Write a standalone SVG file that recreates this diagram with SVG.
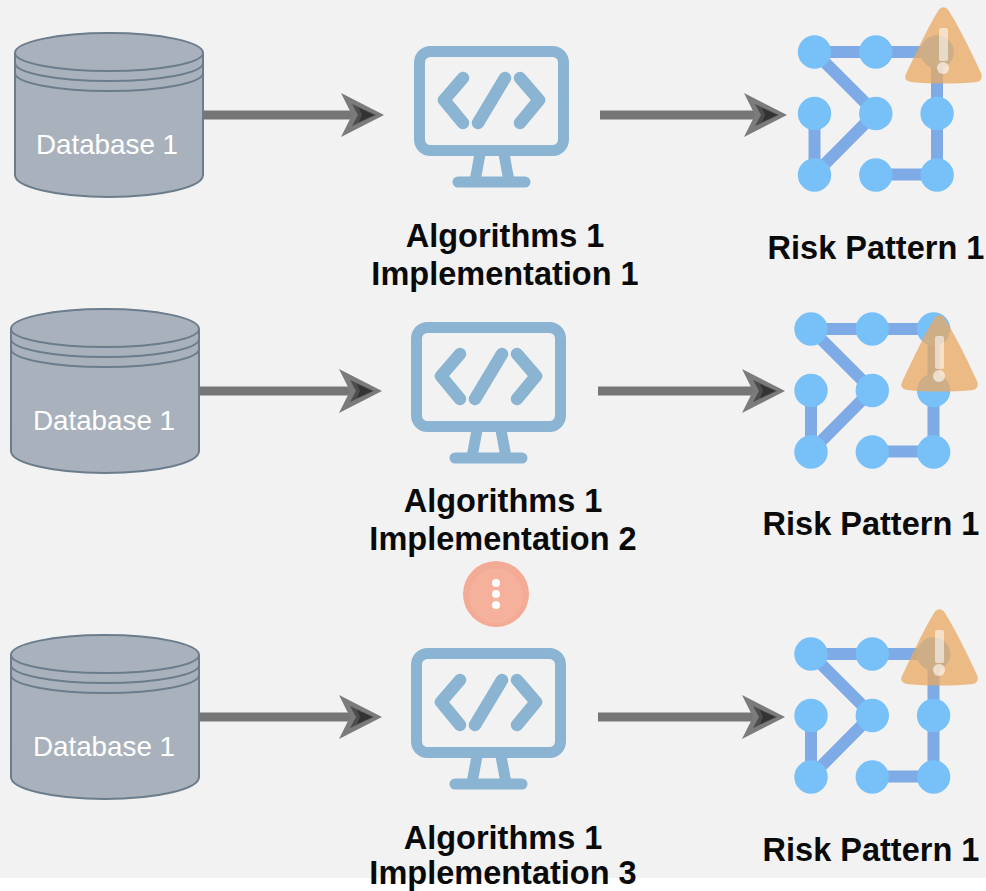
<svg xmlns="http://www.w3.org/2000/svg" width="986" height="891" viewBox="0 0 986 891">
<style>
.t{font-family:"Liberation Sans",Arial,sans-serif;font-weight:700;font-size:32.500px;fill:#0a0a0a;text-anchor:middle}
.d{font-family:"Liberation Sans",Arial,sans-serif;font-size:27.800px;fill:#fff;text-anchor:middle}
.db{fill:#a9b2bc;stroke:#6b7d8c;stroke-width:2}
.dl{fill:none;stroke:#6b7d8c;stroke-width:2}
.m{fill:none;stroke:#8ab4d2;stroke-width:11;stroke-linecap:round;stroke-linejoin:round}
.k{fill:none;stroke:#8ab4d2;stroke-width:12.500;stroke-linecap:round;stroke-linejoin:round}
.e{fill:none;stroke:#7eaae6;stroke-width:12}
.c{fill:#78c0f8}
.ln{fill:none;stroke:#767676;stroke-width:9}
.h1{fill:#7b7b7b}.h2{fill:#4d4d4d}.h3{fill:#333}
</style>
<defs>
<g id="dbs">
<path class="db" d="M0 28A94 20 0 0 1 188 28V150A94 22 0 0 1 0 150Z"/>
<path class="dl" d="M0 28A94 18 0 0 0 188 28M0 38A94 18 0 0 0 188 38M0 48A94 18 0 0 0 188 48"/>
</g>
<g id="mon">
<rect class="m" x="5.500" y="5.500" width="144" height="99" rx="11"/>
<path class="k" d="M49 32L30 54L49 77M106 32L125 54L106 77M91 32L64 77"/>
<path class="m" d="M66 108L61 135M90 108L95 135M44 136H111"/>
</g>
<g id="pat">
<path class="e" d="M0 0H122.500V122.500H61M0 0L61 61L0 122.500V61"/>
<circle class="c" cx="0" cy="0" r="16.700"/><circle class="c" cx="61.300" cy="0" r="16.700"/><circle class="c" cx="122.600" cy="0" r="16.700"/>
<circle class="c" cx="0" cy="61.500" r="16.700"/><circle class="c" cx="61.300" cy="61.500" r="16.700"/><circle class="c" cx="122.600" cy="61.500" r="16.700"/>
<circle class="c" cx="0" cy="123" r="16.700"/><circle class="c" cx="61.300" cy="123" r="16.700"/><circle class="c" cx="122.600" cy="123" r="16.700"/>
</g>
<g id="warn">
<path d="M33 4C36 -1 41 -1 44 4C54 20 68 48 76 66C78 71 76 74 72 75C52 77 26 77 6 75C1 74 -1 71 1 67C10 48 23 20 33 4Z" fill="#e9a860" fill-opacity=".75"/>
<rect x="34" y="21" width="9" height="33" rx="2" fill="#fff" fill-opacity=".55"/>
<circle cx="38" cy="61" r="6" fill="#fff" fill-opacity=".6"/>
</g>
<g id="head">
<path class="h1" d="M0 0L-43 22L-32 0L-43 -22Z"/>
<path class="h2" d="M-8 0L-32 11L-26 0L-32 -11Z"/>
<path class="h3" d="M-10 0L-25 7L-22 0L-25 -7Z"/>
</g>
</defs>
<rect width="986" height="878" fill="#f2f2f2"/>
<g id="connectors">
<path class="ln" d="M203 115H356"/><use href="#head" x="384" y="115"/>
<path class="ln" d="M600 115H758"/><use href="#head" x="787" y="115"/>
<path class="ln" d="M199 391H354"/><use href="#head" x="382" y="391"/>
<path class="ln" d="M598 391H756"/><use href="#head" x="785" y="391"/>
<path class="ln" d="M199 717H354"/><use href="#head" x="382" y="717"/>
<path class="ln" d="M598 717H756"/><use href="#head" x="785" y="717"/>
</g>
<g id="db1"><use href="#dbs" x="15" y="25"/><text class="d" x="107" y="154">Database 1</text></g>
<g id="db2"><use href="#dbs" x="11" y="301"/><text class="d" x="104" y="430">Database 1</text></g>
<g id="db3"><use href="#dbs" x="11" y="627"/><text class="d" x="104" y="756">Database 1</text></g>
<g id="alg1"><use href="#mon" x="414" y="46"/><text class="t" x="505" y="247">Algorithms 1</text><text class="t" x="505" y="285">Implementation 1</text></g>
<g id="alg2"><use href="#mon" x="411" y="322"/><text class="t" x="503" y="512">Algorithms 1</text><text class="t" x="503" y="550">Implementation 2</text></g>
<g id="alg3"><use href="#mon" x="411" y="648"/><text class="t" x="503" y="849">Algorithms 1</text><text class="t" x="503" y="884">Implementation 3</text></g>
<g id="risk1"><use href="#pat" x="814.500" y="52"/><use href="#warn" x="905" y="7"/><text class="t" x="876" y="259">Risk Pattern 1</text></g>
<g id="risk2"><use href="#pat" x="811" y="329"/><use href="#warn" x="901" y="315"/><text class="t" x="871" y="535">Risk Pattern 1</text></g>
<g id="risk3"><use href="#pat" x="811" y="654"/><use href="#warn" x="901" y="609"/><text class="t" x="871" y="861">Risk Pattern 1</text></g>
<g id="more">
<circle cx="496" cy="594" r="33" fill="#f4ab96"/>
<circle cx="496" cy="596" r="27" fill="#f5b19b"/>
<circle cx="496" cy="583" r="4" fill="#fff"/><circle cx="496" cy="594" r="4" fill="#fff"/><circle cx="496" cy="605" r="4" fill="#fff"/>
</g>
</svg>
